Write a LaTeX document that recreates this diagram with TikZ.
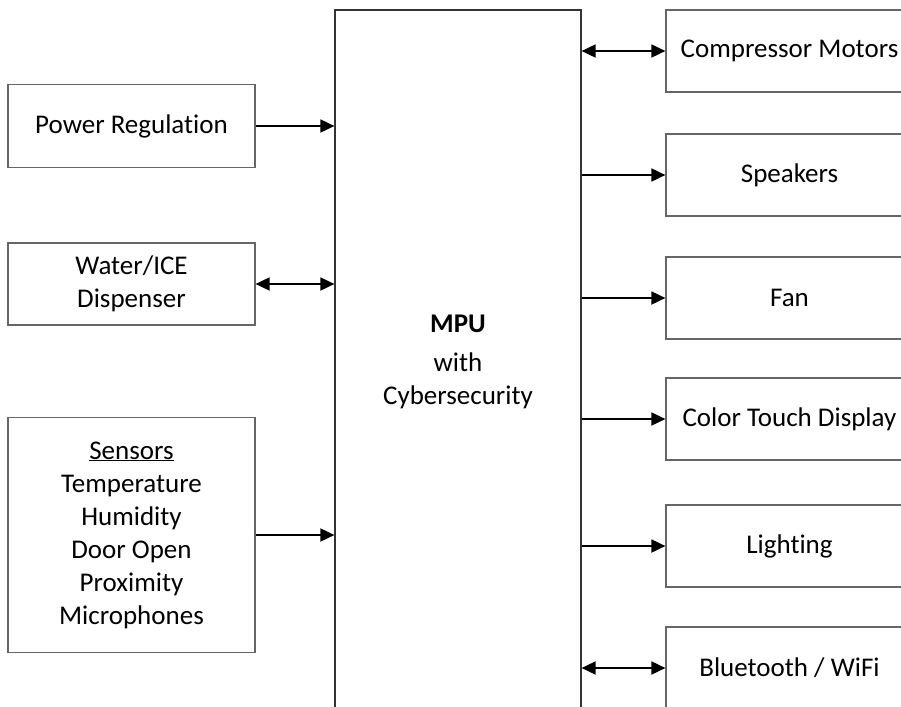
\documentclass[tikz,border=0pt]{standalone}
\usepackage{fontspec}
\setmainfont{Carlito}[Ligatures=NoCommon]
\usetikzlibrary{arrows.meta}

\tikzset{
    blk/.style={draw=black!60, line width=1.2pt, align=center, inner sep=0pt,
        minimum width=247pt, font=\fontsize{27}{33}\selectfont},
    link/.style={line width=1.8pt, -{Triangle[length=14pt,width=13pt]}},
    twolink/.style={line width=1.8pt, {Triangle[length=14pt,width=13pt]}-{Triangle[length=14pt,width=13pt]}},
}

\begin{document}
\begin{tikzpicture}[x=1pt, y=-1pt]
        \useasboundingbox (0,0) rectangle (901,706);
        \clip (0,0) rectangle (901,706);

        % controller in the middle
        \node [blk, draw=black!80, minimum width=246pt, minimum height=704pt] (mpu) at (458,362)
            {\textbf{MPU}\\[6pt]with\\Cybersecurity};

        % inputs on the left
        \node [blk, minimum height=83pt] (pwr) at (131.5,126) {Power Regulation};
        \node [blk, minimum height=82pt] (water) at (131.5,284) {Water/ICE\\Dispenser};
        \node [blk, minimum height=235pt] (sens) at (131.5,535)
            {\underline{Sensors}\\Temperature\\Humidity\\Door Open\\Proximity\\Microphones};

        % outputs on the right
        \node [blk, minimum height=82pt] (comp) at (789.5,51) {Compressor Motors};
        \node [blk, minimum height=82pt] (spk) at (789.5,175) {Speakers};
        \node [blk, minimum height=82pt] (fan) at (789.5,298) {Fan};
        \node [blk, minimum height=82pt] (disp) at (789.5,419) {Color Touch Display};
        \node [blk, minimum height=82pt] (light) at (789.5,546) {Lighting};
        \node [blk, minimum height=82pt] (bt) at (789.5,668) {Bluetooth / WiFi};

        \draw [link] (pwr) -- (pwr -| mpu.west);
        \draw [twolink] (water) -- (water -| mpu.west);
        \draw [link] (sens) -- (sens -| mpu.west);

        \draw [twolink] (comp -| mpu.east) -- (comp);
        \draw [link] (spk -| mpu.east) -- (spk);
        \draw [link] (fan -| mpu.east) -- (fan);
        \draw [link] (disp -| mpu.east) -- (disp);
        \draw [link] (light -| mpu.east) -- (light);
        \draw [twolink] (bt -| mpu.east) -- (bt);
\end{tikzpicture}
\end{document}
